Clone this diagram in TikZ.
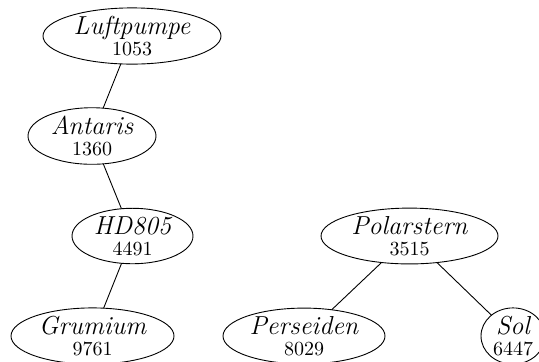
\documentclass[tikz,border=0pt]{standalone}
\usetikzlibrary{shapes.geometric}
\begin{document}
\begin{tikzpicture}[x=0.5pt,y=-0.5pt,
  star/.style={draw, ellipse, line width=0.45pt, inner sep=0pt, outer sep=0pt,
    minimum height=27pt, align=center, font=\fontsize{10}{10.5}\selectfont},
  link/.style={line width=0.45pt}]
\newcommand{\starname}[1]{{\fontsize{13}{10.5}\selectfont\itshape #1}}
\useasboundingbox (0,0) rectangle (539,361);

% left chain
\node[star, minimum width=89pt] (lu) at (132,36)  {\starname{Luftpumpe}\\1053};
\node[star, minimum width=64pt] (an) at (92,136)  {\starname{Antaris}\\1360};
\node[star, minimum width=60.5pt] (hd) at (132.5,236) {\starname{HD805}\\4491};
\node[star, minimum width=81.5pt] (gr) at (92.5,336) {\starname{Grumium}\\9761};

% right tree
\node[star, minimum width=88.5pt] (po) at (409.5,236) {\starname{Polarstern}\\3515};
\node[star, minimum width=81pt] (pe) at (304,336) {\starname{Perseiden}\\8029};
\node[star, minimum width=32pt] (so) at (513,336) {\starname{Sol}\\6447};

\draw[link] (lu) -- (an);
\draw[link] (an) -- (hd);
\draw[link] (hd) -- (gr);
\draw[link] (po) -- (pe);
\draw[link] (po) -- (so);
\end{tikzpicture}
\end{document}
